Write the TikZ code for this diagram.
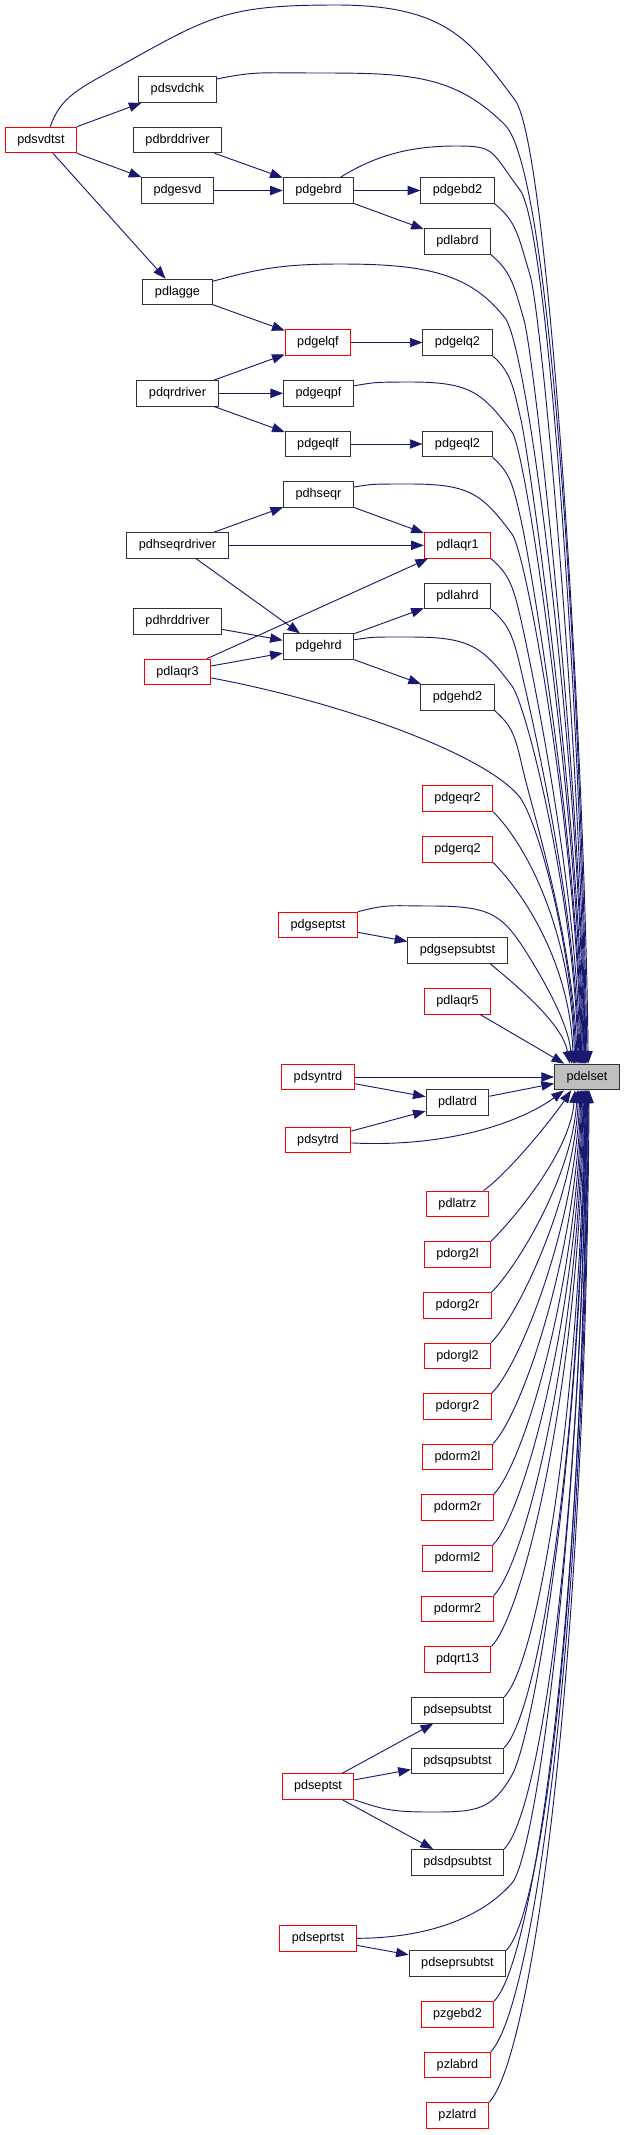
\documentclass[tikz,border=0pt]{standalone}
\usepackage{fontspec}
\setmainfont{Liberation Sans}
\usetikzlibrary{arrows.meta}
\definecolor{linkblue}{HTML}{191970}
\definecolor{setgray}{HTML}{BFBFBF}
\begin{document}
\begin{tikzpicture}[x=0.75pt,y=-0.75pt,
fn/.style={draw=black!80,line width=0.75pt,inner xsep=9pt,inner ysep=0pt,minimum height=19.2pt,font=\fontsize{9.5}{11}\selectfont},
trunc/.style={fn,draw=red},
call/.style={draw=linkblue,line width=0.7pt,-{Triangle[length=9.5pt,width=7pt]}}]
\useasboundingbox (0,0) rectangle (625,2135);
\node[trunc] (pdsvdtst) at (41,140) {pdsvdtst};
\node[fn] (pdsvdchk) at (177.5,89.5) {pdsvdchk};
\node[fn] (pdbrddriver) at (177.5,140) {pdbrddriver};
\node[fn] (pdgesvd) at (177.5,190.5) {pdgesvd};
\node[fn] (pdlagge) at (177.5,292) {pdlagge};
\node[fn] (pdqrdriver) at (177.5,393.3) {pdqrdriver};
\node[fn] (pdhseqrdriver) at (177.5,545.3) {pdhseqrdriver};
\node[fn] (pdhrddriver) at (177.5,621.3) {pdhrddriver};
\node[trunc] (pdlaqr3) at (177.5,672) {pdlaqr3};
\node[fn] (pdgebrd) at (318.5,190.5) {pdgebrd};
\node[trunc] (pdgelqf) at (318,342.5) {pdgelqf};
\node[fn] (pdgeqpf) at (318.5,393.3) {pdgeqpf};
\node[fn] (pdgeqlf) at (318,444) {pdgeqlf};
\node[fn] (pdhseqr) at (318.5,494.5) {pdhseqr};
\node[fn] (pdgehrd) at (318.5,646.7) {pdgehrd};
\node[trunc] (pdgseptst) at (318,925) {pdgseptst};
\node[trunc] (pdsyntrd) at (318,1077) {pdsyntrd};
\node[trunc] (pdsytrd) at (318,1140) {pdsytrd};
\node[trunc] (pdseptst) at (318,1786.5) {pdseptst};
\node[trunc] (pdseprtst) at (318,1938.3) {pdseprtst};
\node[fn] (pdgebd2) at (457.5,190.5) {pdgebd2};
\node[fn] (pdlabrd) at (457.5,241.5) {pdlabrd};
\node[fn] (pdgelq2) at (457.5,342.5) {pdgelq2};
\node[fn] (pdgeql2) at (457.5,444) {pdgeql2};
\node[trunc] (pdlaqr1) at (457.5,545.3) {pdlaqr1};
\node[fn] (pdlahrd) at (457.5,596) {pdlahrd};
\node[fn] (pdgehd2) at (457.5,697.3) {pdgehd2};
\node[trunc] (pdgeqr2) at (457.5,798.6) {pdgeqr2};
\node[trunc] (pdgerq2) at (457.5,849.3) {pdgerq2};
\node[fn] (pdgsepsubtst) at (457.5,950.6) {pdgsepsubtst};
\node[trunc] (pdlaqr5) at (457.5,1001.3) {pdlaqr5};
\node[fn] (pdlatrd) at (457.5,1102.5) {pdlatrd};
\node[trunc] (pdlatrz) at (457.5,1203.8) {pdlatrz};
\node[trunc] (pdorg2l) at (457.5,1254.5) {pdorg2l};
\node[trunc] (pdorg2r) at (457.5,1305.2) {pdorg2r};
\node[trunc] (pdorgl2) at (457.5,1355.8) {pdorgl2};
\node[trunc] (pdorgr2) at (457.5,1406.4) {pdorgr2};
\node[trunc] (pdorm2l) at (457.5,1457) {pdorm2l};
\node[trunc] (pdorm2r) at (457.5,1507.7) {pdorm2r};
\node[trunc] (pdorml2) at (457.5,1558.3) {pdorml2};
\node[trunc] (pdormr2) at (457.5,1609) {pdormr2};
\node[trunc] (pdqrt13) at (457.5,1659.6) {pdqrt13};
\node[fn] (pdsepsubtst) at (457.5,1710.3) {pdsepsubtst};
\node[fn] (pdsqpsubtst) at (457.5,1761) {pdsqpsubtst};
\node[fn] (pdsdpsubtst) at (457.5,1862.3) {pdsdpsubtst};
\node[fn] (pdseprsubtst) at (457.5,1963.6) {pdseprsubtst};
\node[trunc] (pzgebd2) at (457.5,2014.2) {pzgebd2};
\node[trunc] (pzlabrd) at (457.5,2064.9) {pzlabrd};
\node[trunc] (pzlatrd) at (457.5,2115.5) {pzlatrd};
\node[fn,fill=setgray] (pdelset) at (587,1077) {pdelset};
\draw[call] (pdsvdtst) -- (pdsvdchk);
\draw[call] (pdsvdtst) -- (pdgesvd);
\draw[call] (pdsvdtst) -- (pdlagge);
\draw[call] (pdbrddriver) -- (pdgebrd);
\draw[call] (pdgesvd) -- (pdgebrd);
\draw[call] (pdgebrd) -- (pdgebd2);
\draw[call] (pdgebrd) -- (pdlabrd);
\draw[call] (pdlagge) -- (pdgelqf);
\draw[call] (pdgelqf) -- (pdgelq2);
\draw[call] (pdqrdriver) -- (pdgelqf);
\draw[call] (pdqrdriver) -- (pdgeqpf);
\draw[call] (pdqrdriver) -- (pdgeqlf);
\draw[call] (pdgeqlf) -- (pdgeql2);
\draw[call] (pdhseqrdriver) -- (pdhseqr);
\draw[call] (pdhseqrdriver) -- (pdlaqr1);
\draw[call] (pdhseqrdriver) -- (pdgehrd);
\draw[call] (pdhseqr) -- (pdlaqr1);
\draw[call] (pdlaqr3) -- (pdlaqr1);
\draw[call] (pdhrddriver) -- (pdgehrd);
\draw[call] (pdlaqr3) -- (pdgehrd);
\draw[call] (pdgehrd) -- (pdlahrd);
\draw[call] (pdgehrd) -- (pdgehd2);
\draw[call] (pdgseptst) -- (pdgsepsubtst);
\draw[call] (pdlaqr5) -- (pdelset);
\draw[call] (pdsyntrd) -- (pdelset);
\draw[call] (pdsyntrd) -- (pdlatrd);
\draw[call] (pdsytrd) -- (pdlatrd);
\draw[call] (pdlatrd) -- (pdelset);
\draw[call] (pdseptst) -- (pdsepsubtst);
\draw[call] (pdseptst) -- (pdsqpsubtst);
\draw[call] (pdseptst) -- (pdsdpsubtst);
\draw[call] (pdseprtst) -- (pdseprsubtst);
\draw[call] (pdsvdtst.55) .. controls +(10,-30) and +(-40,22) .. (120,66)
  .. controls +(90,-50) and +(-110,0) .. (336,5)
  .. controls +(110,0) and +(-45,-60) .. (515,100)
  .. controls +(35,47) and +(-3,-300) .. (pdelset.85);
\draw[call] (pdsvdchk.15) .. controls +(40,-8) and +(-60,0) .. (320,73)
  .. controls +(90,0) and +(-50,-50) .. (505,125)
  .. controls +(50,50) and +(-4,-300) .. (pdelset.90);
\draw[call] (pdgebrd.31) .. controls +(35,-22) and +(-45,0) .. (456,146)
  .. controls +(40,0) and +(-30,-40) .. (520,190)
  .. controls +(30,40) and +(-3,-300) .. (pdelset.95);
\draw[call] (pdgebd2.south east) .. controls +(22,18) and +(-12,-40) .. (530,275)
  .. controls +(12,40) and +(-3,-300) .. (pdelset.98);
\draw[call] (pdlabrd.south east) .. controls +(20,17) and +(-10,-35) .. (524,320)
  .. controls +(10,35) and +(-3,-280) .. (pdelset.100);
\draw[call] (pdlagge.17) .. controls +(45,-12) and +(-60,0) .. (340,264)
  .. controls +(85,0) and +(-35,-45) .. (505,318)
  .. controls +(25,32) and +(-3,-280) .. (pdelset.103);
\draw[call] (pdgelq2.south east) .. controls +(18,16) and +(-8,-35) .. (521,420)
  .. controls +(8,35) and +(-3,-250) .. (pdelset.106);
\draw[call] (pdgeqpf.12) .. controls +(20,-3) and +(-40,0) .. (410,382)
  .. controls +(60,0) and +(-30,-40) .. (512,432)
  .. controls +(15,20) and +(-3,-240) .. (pdelset.109);
\draw[call] (pdgeql2.south east) .. controls +(18,16) and +(-8,-35) .. (521,520)
  .. controls +(8,35) and +(-3,-220) .. (pdelset.112);
\draw[call] (pdhseqr.12) .. controls +(20,-3) and +(-40,0) .. (410,484)
  .. controls +(60,0) and +(-30,-40) .. (512,534)
  .. controls +(15,20) and +(-3,-220) .. (pdelset.115);
\draw[call] (pdlaqr1.south east) .. controls +(18,16) and +(-8,-35) .. (521,620)
  .. controls +(8,35) and +(-3,-180) .. (pdelset.118);
\draw[call] (pdlahrd.south east) .. controls +(18,16) and +(-8,-35) .. (521,670)
  .. controls +(8,35) and +(-3,-160) .. (pdelset.121);
\draw[call] (pdgehrd.11) .. controls +(20,-3) and +(-40,0) .. (410,637)
  .. controls +(60,0) and +(-30,-40) .. (512,686)
  .. controls +(15,20) and +(-3,-160) .. (pdelset.124);
\draw[call] (pdgehd2.south east) .. controls +(18,16) and +(-8,-35) .. (523,770)
  .. controls +(8,35) and +(-3,-120) .. (pdelset.127);
\draw[call] (pdlaqr3.-10) .. controls +(119,22) and +(-40,-45) .. (518,795)
  .. controls +(20,22) and +(-3,-110) .. (pdelset.130);
\draw[call] (pdgeqr2.south east) .. controls +(35,35) and +(-3,-130) .. (pdelset.133);
\draw[call] (pdgerq2.south east) .. controls +(30,30) and +(-3,-100) .. (pdelset.136);
\draw[call] (pdgseptst.north east) .. controls +(30,-8) and +(-40,0) .. (432,906)
  .. controls +(60,0) and +(-25,-40) .. (528,955)
  .. controls +(15,24) and +(-3,-40) .. (pdelset.139);
\draw[call] (pdgsepsubtst.-22) .. controls +(30,25) and +(-8,-40) .. (pdelset.142);
\draw[call] (pdsytrd.-5) .. controls +(100,5) and +(-40,30) .. (pdelset.210);
\draw[call] (pdlatrz.27) .. controls +(25,-18) and +(-20,30) .. (pdelset.220);
\draw[call] (pdorg2l.north east) .. controls +(25,-25) and +(-5,61) .. (pdelset.228);
\draw[call] (pdorg2r.north east) .. controls +(26,-26) and +(-5,85) .. (pdelset.234);
\draw[call] (pdorgl2.north east) .. controls +(27,-27) and +(-5,109) .. (pdelset.238);
\draw[call] (pdorgr2.north east) .. controls +(28,-28) and +(-5,137) .. (pdelset.242);
\draw[call] (pdorm2l.north east) .. controls +(29,-29) and +(-4,163) .. (pdelset.245);
\draw[call] (pdorm2r.north east) .. controls +(30,-30) and +(-4,194) .. (pdelset.248);
\draw[call] (pdorml2.north east) .. controls +(31,-31) and +(-4,223) .. (pdelset.251);
\draw[call] (pdormr2.north east) .. controls +(32,-32) and +(-4,253) .. (pdelset.254);
\draw[call] (pdqrt13.north east) .. controls +(32,-32) and +(-4,290) .. (pdelset.257);
\draw[call] (pdsepsubtst.north east) .. controls +(33,-33) and +(-4,322) .. (pdelset.260);
\draw[call] (pdsqpsubtst.north east) .. controls +(34,-34) and +(-4,362) .. (pdelset.262);
\draw[call] (pdseptst.south east) .. controls +(30,10) and +(-40,0) .. (432,1812)
  .. controls +(45,0) and +(-20,35) .. (512,1775)
  .. controls +(20,-35) and +(-4,380) .. (pdelset.264);
\draw[call] (pdsdpsubtst.north east) .. controls +(36,-36) and +(-4,433) .. (pdelset.266);
\draw[call] (pdseprtst.east) .. controls +(60,0) and +(-35,40) .. (512,1883)
  .. controls +(25,-29) and +(-4,420) .. (pdelset.268);
\draw[call] (pdseprsubtst.north east) .. controls +(37,-37) and +(-4,500) .. (pdelset.270);
\draw[call] (pzgebd2.north east) .. controls +(38,-38) and +(-4,538) .. (pdelset.273);
\draw[call] (pzlabrd.north east) .. controls +(39,-39) and +(-4,578) .. (pdelset.276);
\draw[call] (pzlatrd.north east) .. controls +(40,-40) and +(-4,608) .. (pdelset.279);
\end{tikzpicture}
\end{document}
